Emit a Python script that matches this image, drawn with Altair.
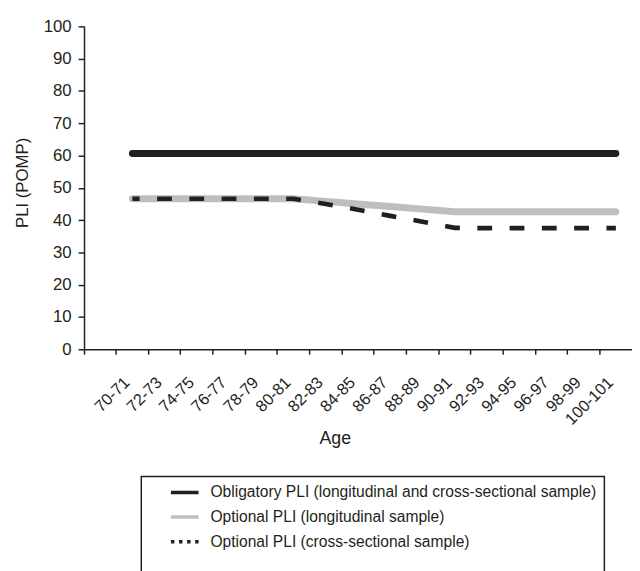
import altair as alt
import pandas as pd

# ---- data ----
ages = ["70-71", "72-73", "74-75", "76-77", "78-79", "80-81", "82-83", "84-85",
        "86-87", "88-89", "90-91", "92-93", "94-95", "96-97", "98-99", "100-101"]
obligatory = [60.6, 60.6, 60.6, 60.6, 60.6, 60.6, 60.6, 60.6,
              60.6, 60.6, 60.6, 60.6, 60.6, 60.6, 60.6, 60.6]
optional_long = [46.6, 46.6, 46.6, 46.6, 46.6, 46.6, 45.8, 45.0,
                 44.2, 43.4, 42.6, 42.6, 42.6, 42.6, 42.6, 42.6]
optional_cross = [46.6, 46.6, 46.6, 46.6, 46.6, 46.6, 45.0, 43.2,
                  41.3, 39.5, 37.6, 37.5, 37.5, 37.5, 37.5, 37.5]
series_names = ["Obligatory PLI (longitudinal and cross-sectional sample)",
                "Optional PLI (longitudinal sample)",
                "Optional PLI (cross-sectional sample)"]
series_colors = ["#231f20", "#bcbec0", "#231f20"]
legend_dashes = [[1, 0], [1, 0], [3.5, 4.7]]
y_ticks = [0, 10, 20, 30, 40, 50, 60, 70, 80, 90, 100]

FONT = "Liberation Sans"
INK = "#231f20"

solid_rows = []
for a, v in zip(ages, obligatory):
    solid_rows.append({"age": a, "value": v, "series": series_names[0]})
for a, v in zip(ages, optional_long):
    solid_rows.append({"age": a, "value": v, "series": series_names[1]})
dash_rows = [{"age": a, "value": v, "series": series_names[2]} for a, v in zip(ages, optional_cross)]

df_solid = pd.DataFrame(solid_rows)
df_dash = pd.DataFrame(dash_rows)

x_enc = alt.X(
    "age:N", sort=None, title="Age",
    scale=alt.Scale(type="band", domain=[""] + ages, paddingInner=0, paddingOuter=0),
    axis=alt.Axis(bandPosition=0, labelAngle=-45, labelFont=FONT, labelFontSize=16.5,
                  labelColor=INK, labelPadding=20, labelOffset=-11, labelOverlap=False,
                  tickSize=5, tickWidth=1.5, tickColor=INK, domainColor=INK, domainWidth=1.5,
                  titleFont=FONT, titleFontSize=18, titleFontWeight="normal",
                  titleColor=INK, titleX=254, titleY=95, titleBaseline="alphabetic",
                  grid=False),
)
y_enc = alt.Y(
    "value:Q", title="PLI (POMP)",
    scale=alt.Scale(domain=[0, 100], nice=False),
    axis=alt.Axis(values=y_ticks, labelFont=FONT, labelFontSize=17, labelColor=INK,
                  labelPadding=7, tickSize=6, tickWidth=1.5, tickColor=INK,
                  domainColor=INK, domainWidth=1.5, titleFont=FONT, titleFontSize=17,
                  titleFontWeight="normal", titleColor=INK, titlePadding=12,
                  titleY=158, grid=False),
)

legend = alt.Legend(
    orient="none", legendX=58, legendY=456, direction="vertical",
    title="\u00a0" * 40, titleOrient="bottom", titleFont=FONT, titleFontSize=41.3,
    titleLimit=2000, titlePadding=10,
    strokeColor=INK, padding=8,
    symbolType="stroke", symbolSize=784, symbolOffset=20, symbolStrokeWidth=3.5,
    labelFont=FONT, labelFontSize=15.8, labelColor=INK, labelLimit=800, labelOffset=10,
    clipHeight=16, rowPadding=9,
)

color_scale = alt.Scale(domain=series_names, range=series_colors)

# layer that carries the legend (thin symbols); it lies under the thicker lines
legend_layer = alt.Chart(df_solid).mark_line(strokeWidth=3.5).encode(
    x=x_enc, y=y_enc,
    color=alt.Color("series:N", scale=color_scale, legend=legend),
    strokeDash=alt.StrokeDash("series:N", scale=alt.Scale(domain=series_names, range=legend_dashes),
                              legend=legend),
)
solid = alt.Chart(df_solid).mark_line(strokeWidth=7, strokeCap="round", strokeJoin="round").encode(
    x=x_enc, y=y_enc, color=alt.Color("series:N", scale=color_scale, legend=None)
)
dashed = alt.Chart(df_dash).mark_line(strokeWidth=4.7, strokeCap="butt", strokeDash=[15, 17.7],
                                      strokeDashOffset=7.7).encode(
    x=x_enc, y=y_enc, color=alt.Color("series:N", scale=color_scale, legend=None)
)

chart = alt.layer(legend_layer, solid, dashed).properties(
    width=555, height=327,
    autosize=alt.AutoSizeParams(type="none"),
    padding={"left": 77, "top": 15, "right": 0, "bottom": 221},
).configure_view(strokeWidth=0).configure_legend(strokeWidth=1.5)

chart.save("out.html", embed_options={"renderer": "svg", "actions": False})
